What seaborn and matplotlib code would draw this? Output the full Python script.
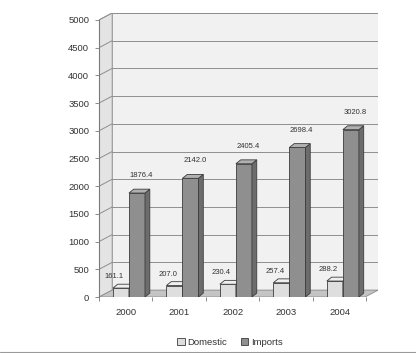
import matplotlib
matplotlib.use("Agg")
import matplotlib.pyplot as plt
from matplotlib.patches import Polygon, Patch
from matplotlib.lines import Line2D
import numpy as np
import pandas as pd
import seaborn as sns

years = ["2000", "2001", "2002", "2003", "2004"]
domestic = [161.1, 207.0, 230.4, 257.4, 288.2]
imports = [1876.4, 2142.0, 2405.4, 2698.4, 3020.8]
series = ["Domestic", "Imports"]
y_ticks = [0, 500, 1000, 1500, 2000, 2500, 3000, 3500, 4000, 4500, 5000]

df = pd.DataFrame({
    "year": years * 2,
    "value": domestic + imports,
    "series": [series[0]] * len(years) + [series[1]] * len(years),
})

sns.set_theme(style="white")
plt.rcParams["font.family"] = ["Liberation Sans", "DejaVu Sans"]

fig = plt.figure(figsize=(4.16, 3.53), dpi=100)
ax = fig.add_axes([0.238, 0.1586, 0.671, 0.8045])

front_colors = {"Domestic": "#dedede", "Imports": "#8f8f8f"}
side_colors = {"Domestic": "#b4b4b4", "Imports": "#6c6c6c"}
top_colors = {"Domestic": "#efefef", "Imports": "#b0b0b0"}
edge = "#3c3c3c"

sns.barplot(data=df, x="year", y="value", hue="series", hue_order=series,
            palette=front_colors, width=0.6, ax=ax, legend=False,
            edgecolor=edge, linewidth=0.6, saturation=1)

xmin, xmax = -0.5, 4.72
ymax = 5000 + 125
ax.set_xlim(xmin, xmax)
ax.set_ylim(0, ymax)

# depth of the chart box (wall offset) and of each bar, in data units
wall_dx, wall_dy = 0.245, 125
bar_dx, bar_dy = 0.09, 70
bar_shift = 0.06  # bars sit slightly toward the back of the floor

# back wall, side wall and floor
ax.add_patch(Polygon([(xmin + wall_dx, wall_dy), (xmax, wall_dy), (xmax, 5000 + wall_dy),
                      (xmin + wall_dx, 5000 + wall_dy)], closed=True,
                     facecolor="#f1f1f1", edgecolor="#9a9a9a", lw=0.6, zorder=0.5))
ax.add_patch(Polygon([(xmin, 0), (xmin + wall_dx, wall_dy), (xmin + wall_dx, 5000 + wall_dy),
                      (xmin, 5000)], closed=True,
                     facecolor="#e4e4e4", edgecolor="#9a9a9a", lw=0.6, zorder=0.5))
ax.add_patch(Polygon([(xmin, 0), (xmax - wall_dx, 0), (xmax, wall_dy), (xmin + wall_dx, wall_dy)],
                     closed=True, facecolor="#c4c4c4", edgecolor="#8a8a8a", lw=0.6, zorder=0.6))
for v in y_ticks[1:]:
    ax.plot([xmin, xmin + wall_dx], [v, v + wall_dy], color="#8e8e8e", lw=0.7, zorder=0.7)
    ax.plot([xmin + wall_dx, xmax], [v + wall_dy, v + wall_dy], color="#8e8e8e", lw=0.7, zorder=0.7)

# 3D faces for each bar, built from the bar geometry
for k, (name, cont) in enumerate(zip(series, ax.containers)):
    z = 2 + k
    for bar in cont:
        bar.set_x(bar.get_x() + bar_shift)
        bar.set_zorder(z)
        x0 = bar.get_x()
        w = bar.get_width()
        h = bar.get_height()
        x1 = x0 + w
        side = Polygon([(x1, 0), (x1 + bar_dx, bar_dy), (x1 + bar_dx, h + bar_dy), (x1, h)],
                       closed=True, facecolor=side_colors[name], edgecolor=edge, lw=0.6, zorder=z + 0.1)
        top = Polygon([(x0, h), (x0 + bar_dx, h + bar_dy), (x1 + bar_dx, h + bar_dy), (x1, h)],
                      closed=True, facecolor=top_colors[name], edgecolor=edge, lw=0.6, zorder=z + 0.1)
        ax.add_patch(side)
        ax.add_patch(top)

# value labels
for name, cont, vals in zip(series, ax.containers, [domestic, imports]):
    for bar, v in zip(cont, vals):
        cx = bar.get_x() + bar.get_width() / 2
        if name == "Domestic":
            ax.text(cx - 0.12, v + 140, f"{v:.1f}", ha="center", va="bottom",
                    fontsize=5.5, color="#333333", zorder=6)
        else:
            ax.text(cx + 0.08, v + 250, f"{v:.1f}", ha="center", va="bottom",
                    fontsize=5.5, color="#333333", zorder=6)

for s in ["top", "right", "bottom"]:
    ax.spines[s].set_visible(False)
ax.spines["left"].set_color("#7a7a7a")
ax.spines["left"].set_linewidth(0.8)
ax.spines["left"].set_bounds(0, 5000)
ax.set_facecolor("white")

ax.set_yticks(y_ticks)
ax.set_yticklabels([str(t) for t in y_ticks])
ax.set_xticks(range(len(years)))
ax.set_xticklabels(years)
ax.set_xticks([i + 0.5 for i in range(-1, len(years))], minor=True)
ax.tick_params(axis="y", direction="out", length=3, width=0.6, color="#7a7a7a",
               labelsize=6.8, labelcolor="#333333", pad=4, left=True)
ax.tick_params(axis="x", which="major", length=0, labelsize=6.8, labelcolor="#333333", pad=8)
ax.tick_params(axis="x", which="minor", direction="out", length=3, width=0.6, color="#7a7a7a",
               bottom=True)
ax.set_xlabel("")
ax.set_ylabel("")

handles = [Patch(facecolor=front_colors[s], edgecolor=edge, lw=0.6, label=s) for s in series]
fig.legend(handles=handles, loc="center", bbox_to_anchor=(0.553, 0.03), ncol=2, frameon=False,
           fontsize=6.8, handlelength=0.8, handleheight=0.8, handletextpad=0.3, columnspacing=1.4,
           labelcolor="#333333")

# chart area border along the bottom edge
fig.add_artist(Line2D([0, 1], [0.002, 0.002], transform=fig.transFigure, color="#9a9a9a", lw=0.8))

fig.savefig("out.png", dpi=100, facecolor="white")
